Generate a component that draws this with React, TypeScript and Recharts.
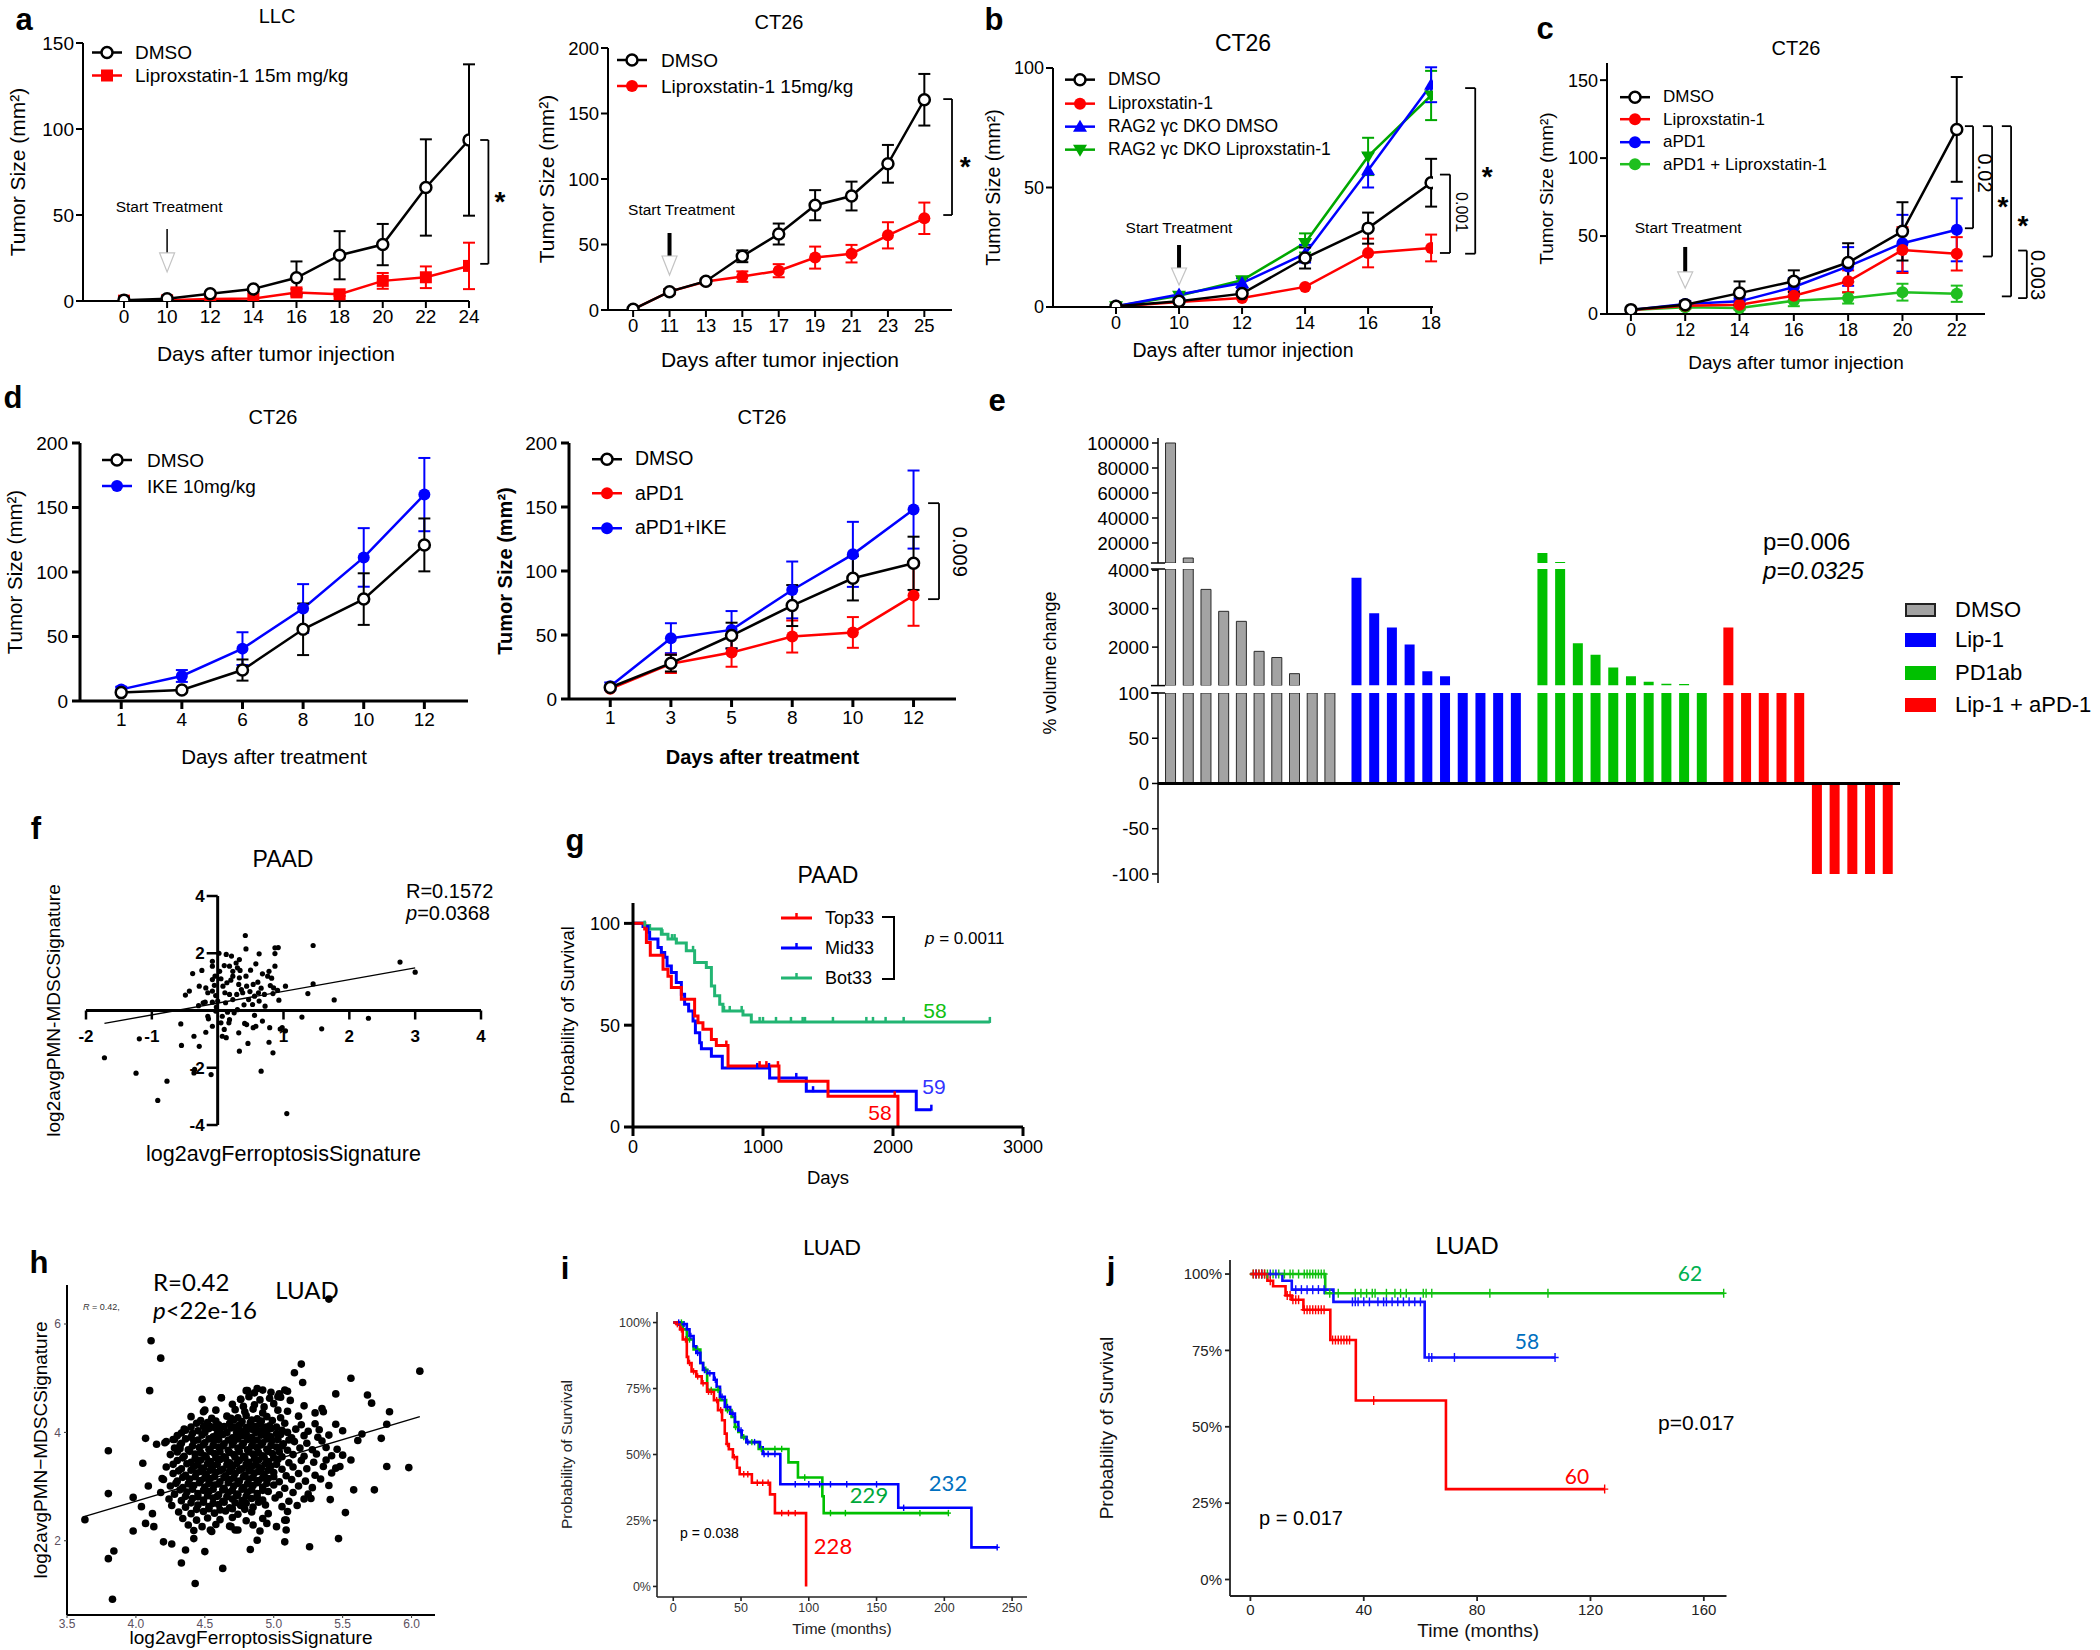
import React from 'react';
import {
  LineChart, Line, XAxis, YAxis, ErrorBar, ReferenceLine, ReferenceDot, Legend,
  BarChart, Bar, Cell, ScatterChart, Scatter,
} from 'recharts';

const FONT = 'Arial, "Liberation Sans", Helvetica, sans-serif';
const SOFT = 'Lato, "Open Sans", sans-serif';
const RED = '#ff0000';
const BLUE = '#0000ff';
const GREEN = '#00a800';
const GREEN2 = '#1fbf1f';
const TEAL = '#22b573';

// ---- a: LLC
const llcDays = ['0', '10', '12', '14', '16', '18', '20', '22', '24'];
const llcDmso = [0.5, 1.3, 4.2, 7, 13.5, 26.6, 32.8, 66, 93.6];
const llcDmsoSem = [null, null, null, null, 9.5, 14, 12, 28, 44];
const llcLip = [0.2, 0.4, 1.2, 1.4, 5, 3.9, 11.7, 13.8, 20.4];
const llcLipSem = [null, null, null, null, 2, 1, 4.6, 6.3, 13.5];

// ---- a: CT26
const ct26Days = ['0', '11', '13', '15', '17', '19', '21', '23', '25'];
const ct26Dmso = [0.5, 14, 22, 41, 58, 80, 87, 111.6, 160.5];
const ct26DmsoSem = [null, 2, 2, 4.5, 8, 11.5, 11, 14.4, 19.7];
const ct26Lip = [0.5, 14, 21.7, 25.5, 30, 40, 43, 57, 70];
const ct26LipSem = [null, 2, 2, 4, 5, 8.4, 6.7, 10, 12];

// ---- b
const bDays = ['0', '10', '12', '14', '16', '18'];
const bDmso = [0.3, 2.4, 5.6, 20.5, 33, 52];
const bDmsoSem = [null, null, null, 4.4, 6.5, 10];
const bLip = [0.2, 2.1, 3.8, 8.4, 22.6, 24.7];
const bLipSem = [null, null, null, null, 6, 5.6];
const bRag = [0.3, 5.2, 10, 22.3, 57.2, 93];
const bRagSem = [null, null, 2, 3.7, 7.2, 7.3];
const bRagLip = [0.3, 4.7, 11.2, 26.8, 63, 88.5];
const bRagLipSem = [null, null, null, 4, 7.8, 10.3];

// ---- c
const cDays = ['0', '12', '14', '16', '18', '20', '22'];
const cDmso = [2.8, 6, 13.4, 21, 33, 53, 118.4];
const cDmsoSem = [null, 2, 7.5, 7, 12.4, 18.7, 33.6];
const cLip = [2.5, 5.3, 6, 11.7, 21, 41, 38.6];
const cLipSem = [null, 2, 2.5, 3, 7, 14.7, 10.7];
const cPd1 = [2.5, 6.4, 8.1, 17.3, 30.5, 45.4, 54];
const cPd1Sem = [null, 2, 2, 5.7, 12.4, 18.2, 20.2];
const cCombo = [2.5, 4.3, 3.8, 8.5, 10.2, 14, 13];
const cComboSem = [null, 1, 1, 3.5, 3.5, 5.4, 5.2];

// ---- d
const dDaysA = ['1', '4', '6', '8', '10', '12'];
const dDmsoA = [6.5, 8.5, 24, 55.6, 79, 121];
const dDmsoASem = [null, null, 8.2, 20, 20, 20.5];
const dIke = [9, 19.4, 40.6, 71.7, 111.3, 160];
const dIkeSem = [2, 4.6, 12.7, 18.9, 22.7, 28.4];
const dDaysB = ['1', '3', '5', '8', '10', '12'];
const dDmsoB = [9, 28, 49.6, 73, 94.3, 106];
const dDmsoBSem = [null, 6.5, 10, 16, 17.3, 20.8];
const dPd1 = [8, 27.5, 36.4, 48.8, 52, 80.8];
const dPd1Sem = [null, 7.2, 11.2, 12.5, 12, 23.6];
const dPd1Ike = [9.9, 47.5, 54, 85.2, 113, 148];
const dPd1IkeSem = [3, 11.7, 14.7, 22.2, 25.4, 30.5];

// ---- e (% volume change per mouse)
const dmsoChange = [100000, 8000, 3500, 2930, 2670, 1890, 1730, 1310, 600, 400];
const lipChange = [3800, 2880, 2510, 2070, 1370, 1240, 800, 600, 400, 200];
const pd1Change = [12000, 4800, 2100, 1800, 1470, 1240, 1100, 1050, 1040, 500];
const comboChange = [2510, 600, 400, 300, 200, -100, -100, -100, -100, -100];

// ---- f: PAAD scatter
const paadPoints = [
  [0.42, 2.62], [0.43, 2.15], [0.87, 2.19], [0.92, 2.2], [1.45, 2.27], [2.77, 1.69], [3.0, 1.34], [0.02, 2.0],
  [0.13, 1.96], [0.21, 1.9], [0.33, 1.78], [0.3, 1.49], [0.34, 1.4], [0.63, 1.98], [0.87, 1.99], [0.87, 1.55],
  [0.78, 1.37], [0.68, 1.28], [0.5, 1.41], [0.43, 1.2], [0.54, 0.91], [0.61, 0.99], [0.76, 1.2], [0.82, 1.13],
  [0.8, 0.87], [0.85, 0.79], [0.84, 0.59], [0.93, 0.36], [1.03, 0.85], [1.45, 0.93], [1.37, 0.59], [1.77, 0.37],
  [1.28, -0.23], [1.58, -0.64], [2.29, -0.27], [0.98, -0.6], [1.03, -0.71], [1.05, -3.6], [0.66, -2.12], [0.84, -1.48],
  [0.78, -1.11], [0.46, -1.15], [0.33, -1.42], [0.32, -0.78], [0.44, -0.49], [0.56, -0.17], [0.58, -0.55], [0.68, -0.37],
  [0.79, -0.6], [0.54, -0.6], [0.41, -0.45], [0.17, -0.43], [0.1, -0.66], [0.07, -0.9], [0.13, -0.95], [0.05, -0.43],
  [-0.08, -0.55], [-0.14, -0.29], [-0.18, -0.76], [-0.1, -2.24], [-0.36, -0.9], [-0.28, -1.25], [-0.55, -1.22], [-0.56, -0.47],
  [-0.36, -2.18], [-0.35, -2.06], [-0.77, -2.47], [-0.91, -3.14], [-1.24, -2.19], [-1.19, -0.99], [-1.72, -1.65], [-0.38, 1.29],
  [-0.24, 1.4], [-0.43, 0.68], [-0.49, 0.54], [-0.29, 0.17], [-0.22, 0.27], [-0.18, 0.79], [-0.28, 0.85], [-0.08, 1.72],
  [-0.08, 1.55], [-0.04, 1.2], [-0.05, 0.88], [-0.08, 0.68], [-0.15, 0.62], [-0.03, 0.52], [-0.08, 0.29], [-0.19, 0.29],
  [0, 0.33], [0.03, 1.37], [0.05, 1.11], [0.08, 0.85], [0.14, 0.97], [0.11, 0.62], [0.18, 0.56], [0.23, 0.38],
  [0.29, 0.56], [0.38, 0.62], [0.44, 0.85], [0.47, 0.38], [0.56, 0.5], [0.62, 0.62], [0.71, 0.56], [0.23, 1.2],
  [0.33, 1.14], [0.25, -0.08], [0.3, 0.03], [0.15, -0.06], [0.53, 0.21], [0.63, 0.33], [0.23, 1.37], [0.1, 1.57],
  [0.18, 1.55], [0.28, 1.66], [-0.03, -0.02], [-0.15, -0.2], [0.32, 0.91], [-0.08, 1.08], [0.2, 1.06], [0.36, 0.73],
  [0.49, 0.66], [0.66, 0.78], [0.12, 0.27], [-0.02, 0.12], [0.4, 0.2], [0.72, 0.15], [0.58, 1.63], [0.91, 0.7],
  [0.95, -0.65], [0.18, -0.32], [0.07, -0.2],
];
const paadFit = [[-1.72, -0.45], [3.0, 1.49]];

// ---- g: PAAD survival (days, % surviving)
const gTopT = [0, 90, 103, 133, 231, 269, 295, 372, 474, 500, 538, 603, 641, 731, 1123, 1500, 2038];
const gTopS = [100, 97.2, 90.6, 84.4, 77.5, 74, 68.5, 62.7, 54.5, 51.2, 48, 43, 40, 29.9, 22.5, 15.1, 0];
const gTopCens = [718, 974, 1026, 1115, 2013];
const gMidT = [0, 77, 115, 128, 192, 218, 244, 262, 295, 333, 372, 397, 428, 462, 480, 513, 526, 603, 687, 1051, 1333, 2179, 2295];
const gMidS = [100, 98.5, 95.6, 92.3, 88.2, 85.7, 83.3, 79.1, 75.9, 70.9, 65.2, 60.3, 57, 52, 46.3, 41.4, 38.4, 34.8, 29, 24.1, 17.6, 8.5, 8.5];
const gMidCens = [956, 1046, 1256, 1385, 2295];
const gBotT = [0, 90, 128, 218, 269, 333, 410, 474, 564, 603, 628, 667, 692, 846, 910, 2745];
const gBotS = [100, 98.9, 97.2, 94.7, 92.3, 90.3, 86.5, 80.8, 78.3, 69.3, 64.4, 60.3, 57, 55, 51.6, 51.6];
const gBotCens = [90, 226, 300, 320, 333, 462, 700, 744, 836, 974, 1000, 1100, 1215, 1305, 1323, 1538, 1795, 1846, 1943, 2082, 2745];

// ---- h: LUAD scatter
const luadPoints = [
  [3.63, 2.39], [3.8, 3.66], [3.8, 2.87], [3.8, 1.67], [3.84, 1.81], [3.83, 0.92], [3.98, 2.8], [3.98, 2.18],
  [4.05, 3.43], [4.07, 3.89], [4.04, 2.63], [4.1, 4.77], [4.11, 5.69], [4.18, 5.37], [4.09, 3.01], [4.15, 3.78],
  [4.2, 1.98], [4.26, 1.94], [4.33, 1.59], [4.36, 1.83], [4.43, 1.21], [4.42, 2.04], [4.5, 1.8], [4.63, 1.49],
  [4.83, 1.84], [4.88, 2.01], [5.08, 1.98], [5.26, 1.89], [5.47, 2.04], [5.52, 2.52], [5.73, 2.94], [5.98, 3.35],
  [5.82, 3.37], [5.56, 3.49], [5.58, 2.94], [5.78, 3.89], [5.84, 4.38], [5.82, 4.15], [5.71, 4.54], [5.68, 4.69],
  [5.56, 5.0], [6.06, 5.13], [5.45, 4.71], [5.45, 4.15], [5.5, 4.03], [5.61, 3.85], [5.64, 3.97], [5.15, 5.1],
  [5.21, 4.92], [5.2, 5.26], [5.4, 6.46], [5.35, 4.44], [5.3, 4.36], [5.41, 2.76], [5.48, 3.37], [5.08, 4.78],
  [5.03, 4.66], [4.88, 4.81], [4.81, 4.77], [4.76, 4.61], [4.62, 4.64], [4.48, 4.61], [4.58, 4.41], [4.49, 4.38],
  [4.69, 4.26], [4.36, 4.04], [4.44, 4.17], [4.54, 4.11], [4.28, 3.87], [4.21, 3.81], [4.32, 3.7], [4.19, 3.15],
  [4.12, 2.5], [4.13, 2.26], [4.07, 2.32], [5.09, 2.2], [5.09, 2.38], [5.27, 2.78], [4.95, 2.32], [4.74, 2.2],
  [4.69, 2.26], [4.54, 2.2],
  [4.8, 4.77], [4.86, 4.73], [4.92, 4.78], [4.98, 4.74], [5.04, 4.71], [5.1, 4.76],
  [4.62, 4.64], [4.76, 4.61], [4.82, 4.66], [4.9, 4.6], [4.97, 4.63], [5.05, 4.65], [5.12, 4.59],
  [4.7, 4.52], [4.78, 4.48], [4.86, 4.51], [4.93, 4.47], [5.0, 4.53], [5.22, 4.49],
  [4.5, 4.41], [4.72, 4.42], [4.79, 4.38], [4.85, 4.43], [4.92, 4.36], [5.03, 4.41], [5.1, 4.39], [5.36, 4.38],
  [4.4, 4.29], [4.55, 4.26], [4.66, 4.3], [4.74, 4.27], [4.8, 4.31], [4.88, 4.25], [4.95, 4.29], [5.05, 4.27], [5.18, 4.3],
  [4.52, 4.18], [4.6, 4.14], [4.68, 4.17], [4.75, 4.13], [4.83, 4.18], [4.9, 4.15], [4.97, 4.12], [5.08, 4.17], [5.2, 4.14], [5.3, 4.16],
  [4.35, 4.06], [4.45, 4.03], [4.53, 4.07], [4.61, 4.04], [4.69, 4.08], [4.76, 4.02], [4.84, 4.06], [4.91, 4.03], [4.98, 4.07],
  [5.06, 4.04], [5.16, 4.06], [5.25, 4.02], [5.33, 4.05],
  [4.3, 3.94], [4.4, 3.91], [4.48, 3.95], [4.56, 3.92], [4.63, 3.96], [4.7, 3.9], [4.77, 3.94], [4.84, 3.91], [4.91, 3.95],
  [4.98, 3.92], [5.05, 3.96], [5.13, 3.9], [5.22, 3.94], [5.32, 3.91], [5.4, 3.95],
  [4.22, 3.83], [4.33, 3.8], [4.42, 3.84], [4.5, 3.81], [4.57, 3.85], [4.64, 3.79], [4.71, 3.83], [4.78, 3.8], [4.85, 3.84],
  [4.92, 3.81], [4.99, 3.85], [5.07, 3.79], [5.15, 3.83], [5.24, 3.8], [5.35, 3.84],
  [4.28, 3.71], [4.38, 3.68], [4.46, 3.72], [4.53, 3.69], [4.6, 3.73], [4.67, 3.67], [4.74, 3.71], [4.81, 3.68], [4.88, 3.72],
  [4.95, 3.69], [5.02, 3.73], [5.1, 3.67], [5.19, 3.71], [5.28, 3.68], [5.38, 3.72], [5.46, 3.69],
  [4.25, 3.59], [4.35, 3.56], [4.43, 3.6], [4.5, 3.57], [4.57, 3.61], [4.64, 3.55], [4.71, 3.59], [4.78, 3.56], [4.85, 3.6],
  [4.92, 3.57], [4.99, 3.61], [5.06, 3.55], [5.14, 3.59], [5.22, 3.56], [5.31, 3.6], [5.42, 3.57], [5.5, 3.58],
  [4.3, 3.48], [4.4, 3.45], [4.47, 3.49], [4.54, 3.46], [4.61, 3.5], [4.68, 3.44], [4.75, 3.48], [4.82, 3.45], [4.89, 3.49],
  [4.96, 3.46], [5.03, 3.5], [5.11, 3.44], [5.2, 3.48], [5.29, 3.45], [5.38, 3.49],
  [4.22, 3.36], [4.33, 3.33], [4.42, 3.37], [4.49, 3.34], [4.56, 3.38], [4.63, 3.32], [4.7, 3.36], [4.77, 3.33], [4.84, 3.37],
  [4.91, 3.34], [4.98, 3.38], [5.06, 3.32], [5.14, 3.36], [5.24, 3.33], [5.36, 3.37], [5.45, 3.34],
  [4.27, 3.24], [4.36, 3.21], [4.44, 3.25], [4.51, 3.22], [4.58, 3.26], [4.65, 3.2], [4.72, 3.24], [4.79, 3.21], [4.86, 3.25],
  [4.93, 3.22], [5.0, 3.26], [5.09, 3.2], [5.18, 3.24], [5.3, 3.21], [5.42, 3.25],
  [4.2, 3.13], [4.3, 3.1], [4.39, 3.14], [4.47, 3.11], [4.54, 3.15], [4.61, 3.09], [4.68, 3.13], [4.75, 3.1], [4.82, 3.14],
  [4.89, 3.11], [4.96, 3.15], [5.04, 3.09], [5.13, 3.13], [5.23, 3.1], [5.34, 3.14],
  [4.25, 3.01], [4.34, 2.98], [4.42, 3.02], [4.5, 2.99], [4.57, 3.03], [4.64, 2.97], [4.71, 3.01], [4.78, 2.98], [4.85, 3.02],
  [4.92, 2.99], [5.0, 3.03], [5.08, 2.97], [5.18, 3.01], [5.28, 2.98], [5.4, 3.02],
  [4.18, 2.89], [4.28, 2.86], [4.37, 2.9], [4.45, 2.87], [4.53, 2.91], [4.6, 2.85], [4.67, 2.89], [4.74, 2.86], [4.81, 2.9],
  [4.88, 2.87], [4.96, 2.91], [5.04, 2.85], [5.14, 2.89], [5.25, 2.86],
  [4.24, 2.77], [4.33, 2.74], [4.41, 2.78], [4.49, 2.75], [4.56, 2.79], [4.63, 2.73], [4.7, 2.77], [4.77, 2.74], [4.84, 2.78],
  [4.92, 2.75], [5.01, 2.79], [5.11, 2.73], [5.22, 2.77],
  [4.26, 2.65], [4.36, 2.62], [4.45, 2.66], [4.53, 2.63], [4.6, 2.67], [4.68, 2.61], [4.76, 2.65], [4.85, 2.62], [4.94, 2.66],
  [5.06, 2.63], [5.17, 2.65],
  [4.31, 2.53], [4.4, 2.5], [4.49, 2.54], [4.57, 2.51], [4.65, 2.55], [4.74, 2.49], [4.84, 2.53], [4.96, 2.5], [5.1, 2.54],
  [4.34, 2.41], [4.44, 2.38], [4.52, 2.42], [4.61, 2.39], [4.7, 2.43], [4.8, 2.37], [4.92, 2.41], [5.08, 2.38],
  [4.38, 2.29], [4.48, 2.26], [4.58, 2.3], [4.68, 2.27], [4.85, 2.29], [5.02, 2.26],
  [4.42, 2.19], [4.55, 2.17], [4.72, 2.2], [4.9, 2.18],
  // dense core
  [4.47, 4.22], [4.58, 4.21], [4.71, 4.23], [4.77, 4.2], [4.84, 4.23], [4.91, 4.21], [4.99, 4.22],
  [4.4, 4.1], [4.49, 4.11], [4.57, 4.09], [4.64, 4.11], [4.72, 4.1], [4.8, 4.09], [4.87, 4.11], [4.94, 4.1], [5.02, 4.1],
  [4.33, 3.99], [4.41, 3.98], [4.5, 4.0], [4.59, 3.98], [4.66, 4.0], [4.73, 3.99], [4.8, 3.98], [4.87, 4.0], [4.95, 3.99], [5.02, 3.98], [5.1, 4.0],
  [4.27, 3.87], [4.36, 3.88], [4.45, 3.86], [4.53, 3.88], [4.6, 3.87], [4.67, 3.86], [4.74, 3.88], [4.81, 3.87], [4.88, 3.86], [4.95, 3.88], [5.03, 3.87], [5.11, 3.86],
  [4.32, 3.76], [4.41, 3.75], [4.49, 3.77], [4.56, 3.76], [4.63, 3.75], [4.7, 3.77], [4.77, 3.76], [4.84, 3.75], [4.91, 3.77], [4.98, 3.76], [5.06, 3.75],
  [4.3, 3.64], [4.39, 3.65], [4.47, 3.63], [4.54, 3.65], [4.61, 3.64], [4.68, 3.63], [4.75, 3.65], [4.82, 3.64], [4.89, 3.63], [4.96, 3.65], [5.04, 3.64],
  [4.34, 3.53], [4.43, 3.52], [4.51, 3.54], [4.58, 3.53], [4.65, 3.52], [4.72, 3.54], [4.79, 3.53], [4.86, 3.52], [4.93, 3.54], [5.0, 3.53],
  [4.27, 3.41], [4.37, 3.42], [4.45, 3.4], [4.52, 3.42], [4.59, 3.41], [4.66, 3.4], [4.73, 3.42], [4.8, 3.41], [4.87, 3.4], [4.94, 3.42], [5.02, 3.41],
  [4.31, 3.29], [4.4, 3.3], [4.47, 3.28], [4.54, 3.3], [4.61, 3.29], [4.68, 3.28], [4.75, 3.3], [4.82, 3.29], [4.89, 3.28], [4.96, 3.3],
  [4.34, 3.17], [4.43, 3.18], [4.5, 3.16], [4.57, 3.18], [4.64, 3.17], [4.71, 3.16], [4.78, 3.18], [4.85, 3.17], [4.92, 3.16], [5.0, 3.18],
  [4.29, 3.06], [4.38, 3.05], [4.46, 3.07], [4.53, 3.06], [4.6, 3.05], [4.67, 3.07], [4.74, 3.06], [4.81, 3.05], [4.88, 3.07], [4.95, 3.06],
  [4.32, 2.94], [4.41, 2.95], [4.49, 2.93], [4.56, 2.95], [4.63, 2.94], [4.7, 2.93], [4.77, 2.95], [4.84, 2.94], [4.92, 2.93],
  [4.36, 2.82], [4.45, 2.81], [4.52, 2.83], [4.59, 2.82], [4.66, 2.81], [4.73, 2.83], [4.8, 2.82], [4.88, 2.81],
  [4.4, 2.7], [4.49, 2.71], [4.56, 2.69], [4.64, 2.71], [4.72, 2.7], [4.8, 2.69], [4.89, 2.71],
  [4.44, 2.58], [4.53, 2.59], [4.61, 2.57], [4.7, 2.59], [4.79, 2.58],
];
const luadFit = [[3.63, 2.45], [6.06, 4.29]];

// ---- i: LUAD survival (months, %)
const iLowT = [0, 2.5, 5, 7, 10, 11, 13.5, 17, 21, 25, 30, 33, 36, 38, 39.4, 41, 44, 47, 49, 58, 71.4, 75, 98];
const iLowS = [100, 99.4, 97.4, 93.6, 87, 84.7, 81.5, 79.6, 77, 73.8, 70.6, 66.8, 63, 57.9, 54, 52, 49, 45, 42.5, 39.3, 34.9, 27.8, 0];
const iLowCens = [3, 6, 9, 12, 15, 18, 22, 26, 28, 32, 35, 40, 45, 52, 55, 62, 66, 70, 80, 85, 90];
const iMidT = [0, 5, 10, 12, 15, 17, 20, 22, 25, 30, 32, 34.5, 38, 42, 45.5, 48, 50.5, 54, 64, 66, 79, 166, 220, 239];
const iMidS = [100, 99.4, 97.4, 94.9, 91, 88.5, 84.7, 82, 80.8, 78.3, 75.7, 71.9, 68, 65.5, 62.3, 59.1, 56.6, 54.7, 52.7, 50.2, 38.7, 29.8, 14.8, 14.8];
const iMidCens = [4, 8, 13, 18, 23, 27, 31, 36, 40, 44, 50, 55, 60, 67, 70, 75, 90, 100, 108, 116, 128, 150, 170, 239];
const iHighT = [0, 7, 10, 15, 20, 22, 25, 34.5, 39, 43, 45.5, 48, 50.5, 54, 63, 85, 92, 110, 111, 203];
const iHighS = [100, 97.4, 93.6, 89.8, 84.7, 82.1, 74.5, 70.6, 66.8, 64.2, 60.4, 58.5, 56.6, 54.7, 52.1, 47, 41.3, 34.2, 27.8, 27.8];
const iHighCens = [6, 12, 18, 24, 28, 33, 40, 46, 52, 58, 65, 75, 80, 97, 116, 127, 182, 203];

// ---- j: LUAD survival (months, %)
const jGreenT = [0, 26.4, 167];
const jGreenS = [100, 93.7, 93.7];
const jGreenCens = [1, 2, 3, 4, 5, 6, 8, 10, 12, 14, 15, 17, 19, 20, 21, 22, 23, 24, 25, 26, 28, 31, 37, 39, 41, 43, 44, 48, 51, 53, 55, 61, 62, 64, 84.5, 105, 167];
const jBlueT = [0, 11.3, 14.6, 29.3, 61.5, 107.5];
const jBlueS = [100, 97.8, 94.9, 90.9, 72.7, 72.7];
const jBlueCens = [2, 4, 7, 9, 16, 18, 20, 22, 24, 26, 36, 37, 38, 40, 42, 45, 47, 48, 50, 52, 54, 56, 58, 60, 63, 64, 72, 107.5];
const jRedT = [0, 6, 8, 12.4, 14.6, 18.7, 28.2, 37.2, 69, 125];
const jRedS = [100, 97.8, 96, 93, 91.6, 88.3, 78.4, 58.6, 29.6, 29.6];
const jRedCens = [1, 2, 3, 4, 5, 7, 13, 14, 15, 16, 17, 19, 20, 21, 22, 23, 24, 25, 26, 29, 30, 31, 32, 33, 34, 35, 43.5, 125];

// ---------------------------------------------------------------- helpers
function frame(b) {
  return { left: b.x0 - b.L, top: b.y0 - b.T, width: b.x1 - b.x0 + b.L + b.R, height: b.y1 - b.y0 + b.T + b.B };
}

function stepAt(ts, ss, t) {
  let v = ss[0];
  for (let k = 0; k < ts.length; k++) if (ts[k] <= t) v = ss[k];
  return v;
}

function Abs({ x, y, size = 20, anchor = 'start', children, family = FONT, color = '#000', weight = 400, rotate = 0, italic = false }) {
  const tx = anchor === 'middle' ? '-50%' : anchor === 'end' ? '-100%' : '0';
  return (
    <div style={{
      position: 'absolute', left: x, top: y, fontSize: size, lineHeight: 1, whiteSpace: 'nowrap', fontFamily: family,
      color, fontWeight: weight, fontStyle: italic ? 'italic' : 'normal',
      transform: `translate(${tx}, -50%)${rotate ? ` rotate(${rotate}deg)` : ''}`,
    }}>{children}</div>
  );
}

function marker(shape, color, cx, cy, key) {
  if (cx == null || cy == null) return null;
  switch (shape) {
    case 'open': return <circle key={key} cx={cx} cy={cy} r={5.5} fill="#fff" stroke={color} strokeWidth={2.5} />;
    case 'dot': return <circle key={key} cx={cx} cy={cy} r={6} fill={color} />;
    case 'square': return <rect key={key} x={cx - 6} y={cy - 6} width={12} height={12} fill={color} />;
    case 'up': return <polygon key={key} points={`${cx},${cy - 7} ${cx - 7},${cy + 5} ${cx + 7},${cy + 5}`} fill={color} />;
    default: return <polygon key={key} points={`${cx - 7},${cy - 5} ${cx + 7},${cy - 5} ${cx},${cy + 7}`} fill={color} />;
  }
}

function GrowthLegend({ series, font, gap, textX }) {
  return (
    <div style={{ fontFamily: FONT, fontSize: font, color: '#000', lineHeight: 1 }}>
      {series.map((s) => (
        <div key={s.name} style={{ display: 'flex', alignItems: 'center', height: gap, whiteSpace: 'nowrap' }}>
          <svg width={textX} height={gap} style={{ flex: 'none', overflow: 'visible' }}>
            <line x1={0} x2={30} y1={gap / 2} y2={gap / 2} stroke={s.color} strokeWidth={2.5} />
            {marker(s.shape, s.color, 15, gap / 2, 'm')}
          </svg>
          <span>{s.name}</span>
        </div>
      ))}
    </div>
  );
}

function GrowthPanel(p) {
  const { box, labels, series, legend: lg } = p;
  const f = frame(box);
  const data = labels.map((_, i) => {
    const row = { i };
    series.forEach((s, k) => { row['v' + k] = s.values[i]; row['e' + k] = s.sem[i]; });
    return row;
  });
  const axis = { stroke: '#000', strokeWidth: p.axisW };
  const tick = { fill: '#000', fontSize: p.tickFont, fontFamily: FONT };
  const lbl = { fontSize: p.labelFont, fontFamily: FONT, fontWeight: p.bold ? 700 : 400, fill: '#000' };
  const order = series.map((_, k) => k).reverse();
  const st = p.start;
  return (
    <div style={{ position: 'absolute', left: f.left, top: f.top }}>
      <LineChart width={f.width} height={f.height} data={data} margin={{ top: box.T, right: box.R, bottom: 0, left: 0 }}>
        <XAxis type="number" dataKey="i" domain={p.xDomain} allowDataOverflow ticks={labels.map((_, i) => i)} interval={0}
          tickFormatter={(v) => labels[v] ?? ''} height={box.B} axisLine={axis} tickLine={axis} tickSize={p.tickSize || 7}
          tickMargin={p.tickMargin || 2} tick={tick}
          label={{ value: p.xLabel, position: 'insideBottom', offset: p.xLabelOffset, style: lbl }} />
        <YAxis type="number" domain={p.yDomain} allowDataOverflow ticks={p.yTicks} interval={0} width={box.L}
          axisLine={axis} tickLine={axis} tickSize={p.tickSize || 7} tickMargin={p.tickMargin || 2} tick={tick}
          label={{ value: p.yLabel, angle: -90, position: 'insideLeft', offset: p.yLabelOffset, style: { ...lbl, textAnchor: 'middle' } }} />
        {order.map((k) => {
          const s = series[k];
          return (
            <Line key={s.name} dataKey={'v' + k} stroke={s.color} strokeWidth={2.5} isAnimationActive={false} activeDot={false}
              dot={(d) => marker(s.shape, s.color, d.cx, d.cy, `d${k}-${d.index}`)}>
              <ErrorBar dataKey={'e' + k} width={6} stroke={s.color} strokeWidth={2} direction="y" />
            </Line>
          );
        })}
        {p.brackets.map((b, k) => (
          <React.Fragment key={'b' + k}>
            <ReferenceLine segment={[{ x: b.x, y: b.y1 }, { x: b.x, y: b.y2 }]} stroke="#000" strokeWidth={1.8} ifOverflow="visible" />
            <ReferenceLine segment={[{ x: b.x0, y: b.y1 }, { x: b.x, y: b.y1 }]} stroke="#000" strokeWidth={1.8} ifOverflow="visible" />
            <ReferenceLine segment={[{ x: b.x0, y: b.y2 }, { x: b.x, y: b.y2 }]} stroke="#000" strokeWidth={1.8} ifOverflow="visible" />
            <ReferenceDot x={b.tx} y={b.ty} ifOverflow="visible" shape={(q) => (
              b.rotate
                ? <text x={q.cx} y={q.cy} transform={`rotate(90 ${q.cx} ${q.cy})`} textAnchor="middle" dominantBaseline="central"
                    fontSize={b.font || 19} fontFamily={FONT} fill="#000">{b.text}</text>
                : <text x={q.cx} y={q.cy + 13} textAnchor="middle" fontSize={28} fontWeight={700} fontFamily={FONT} fill="#000">{b.text}</text>
            )} />
          </React.Fragment>
        ))}
        {st && (
          <ReferenceDot x={st.idx} y={st.tip} ifOverflow="visible" shape={(q) => (
            <g>
              <text x={q.cx + st.dx} y={q.cy - st.textUp} textAnchor="middle" fontSize={15.5} fontFamily={FONT} fill="#000">Start Treatment</text>
              <line x1={q.cx} x2={q.cx} y1={q.cy - st.stemTop} y2={q.cy - st.tri} stroke="#000" strokeWidth={st.stemW} />
              <polygon points={`${q.cx - 7.5},${q.cy - st.tri} ${q.cx + 7.5},${q.cy - st.tri} ${q.cx},${q.cy}`} fill="#fff" stroke="#c4c4c4" strokeWidth={1.2} />
            </g>
          )} />
        )}
        <Legend layout="vertical" align="center" verticalAlign="middle"
          wrapperStyle={{ left: lg.x - f.left, top: lg.y - lg.gap / 2 - f.top, width: 'auto', height: 'auto' }}
          content={() => <GrowthLegend series={series} font={lg.font} gap={lg.gap} textX={lg.textX} />} />
      </LineChart>
    </div>
  );
}

function censorMark(kind, color, cx, cy, key) {
  if (cx == null || cy == null) return null;
  if (kind === 'tick') return <line key={key} x1={cx} x2={cx} y1={cy - 5} y2={cy + 1} stroke={color} strokeWidth={2.5} />;
  const h = kind === 'plusBig' ? 4.5 : 3.2;
  return (
    <g key={key}>
      <line x1={cx} x2={cx} y1={cy - h} y2={cy + h} stroke={color} strokeWidth={1.4} />
      <line x1={cx - h * 0.8} x2={cx + h * 0.8} y1={cy} y2={cy} stroke={color} strokeWidth={1.4} />
    </g>
  );
}

function KMChart(p) {
  const b = p.box;
  const f = frame(b);
  const axis = { stroke: p.axisColor, strokeWidth: p.axisW };
  const tick = { fill: p.tickColor, fontSize: p.tickFont, fontFamily: FONT };
  const lbl = { fontSize: p.labelFont, fontFamily: FONT, fill: p.labelColor || '#000' };
  return (
    <div style={{ position: 'absolute', left: f.left, top: f.top }}>
      <LineChart width={f.width} height={f.height} margin={{ top: b.T, right: b.R, bottom: 0, left: 0 }}>
        <XAxis type="number" dataKey="t" domain={p.xDomain} allowDataOverflow ticks={p.xTicks} interval={0} height={b.B}
          axisLine={axis} tickLine={axis} tickSize={p.tickSize} tickMargin={p.tickMargin} tick={tick}
          label={{ value: p.xLabel, position: 'insideBottom', offset: p.xLabelOffset, style: lbl }} />
        <YAxis type="number" domain={p.yDomain} allowDataOverflow ticks={p.yTicks} interval={0} width={b.L} tickFormatter={p.yFmt}
          axisLine={axis} tickLine={axis} tickSize={p.tickSize} tickMargin={p.tickMargin} tick={tick}
          label={{ value: p.yLabel, angle: -90, position: 'insideLeft', offset: p.yLabelOffset, style: { ...lbl, textAnchor: 'middle' } }} />
        {p.curves.map((c, k) => (
          <Line key={'c' + k} data={c.t.map((t, i) => ({ t, s: c.s[i] }))} dataKey="s" type="stepAfter" stroke={c.color}
            strokeWidth={p.lineW} dot={false} activeDot={false} isAnimationActive={false} />
        ))}
        {p.curves.map((c, k) => (
          <Line key={'m' + k} data={c.censor.map((t) => ({ t, s: stepAt(c.t, c.s, t) }))} dataKey="s" stroke="none"
            dot={(d) => censorMark(p.censor, c.color, d.cx, d.cy, `m${k}-${d.index}`)} activeDot={false} isAnimationActive={false} />
        ))}
        {p.children}
      </LineChart>
    </div>
  );
}

// ---------------------------------------------------------------- panels
function WaterfallPanel() {
  const groups = [
    { values: dmsoChange, fill: '#a3a3a3', stroke: '#2a2a2a' },
    { values: lipChange, fill: BLUE, stroke: 'none' },
    { values: pd1Change, fill: '#00c000', stroke: 'none' },
    { values: comboChange, fill: RED, stroke: 'none' },
  ];
  const rows = groups.flatMap((g, gi) => g.values.map((v, i) => ({ pos: gi * 10.5 + i, v, gi })));
  const segs = [
    { y0: 438, y1: 563, domain: [4000, 104000], ticks: [20000, 40000, 60000, 80000, 100000], breaks: [4000], pick: (v) => (v > 4000 ? v : null) },
    { y0: 569, y1: 685.6, domain: [1000, 4030], ticks: [2000, 3000, 4000], breaks: [4030, 1000], pick: (v) => (v > 1000 ? Math.min(v, 4030) : null) },
    { y0: 693, y1: 883, domain: [-110, 100], ticks: [-100, -50, 0, 50, 100], breaks: [100], pick: (v) => Math.min(v, 100) },
  ];
  const x0 = 1158;
  const x1 = 1900;
  const L = 110;
  const R = 10;
  const T = 12;
  const axis = { stroke: '#000', strokeWidth: 1.5 };
  return (
    <>
      {segs.map((s, si) => {
        const data = rows.map((r) => ({ pos: r.pos, val: s.pick(r.v), gi: r.gi }));
        return (
          <div key={si} style={{ position: 'absolute', left: x0 - L, top: s.y0 - T }}>
            <BarChart width={x1 - x0 + L + R} height={s.y1 - s.y0 + T + 8} data={data} margin={{ top: T, right: R, bottom: 8, left: 0 }}>
              <XAxis type="number" dataKey="pos" domain={[-0.7, 41.2]} allowDataOverflow hide />
              <YAxis type="number" domain={s.domain} allowDataOverflow ticks={s.ticks} interval={0} width={L}
                axisLine={axis} tickLine={axis} tickSize={6} tickMargin={3}
                tick={{ fill: '#000', fontSize: 18.5, fontFamily: FONT }} />
              <Bar dataKey="val" barSize={10} isAnimationActive={false}>
                {data.map((d, i) => <Cell key={i} fill={groups[d.gi].fill} stroke={groups[d.gi].stroke} strokeWidth={1} />)}
              </Bar>
              {s.breaks.map((y) => (
                <ReferenceLine key={y} segment={[{ x: -1.1, y }, { x: -0.3, y }]} stroke="#000" strokeWidth={1.5} ifOverflow="visible" />
              ))}
              {si === 2 && <ReferenceLine y={0} stroke="#000" strokeWidth={3} />}
            </BarChart>
          </div>
        );
      })}
      <Abs x={1050} y={663} size={18} anchor="middle" rotate={-90}>% volume change</Abs>
      <Abs x={1763} y={542} size={24}>p=0.006</Abs>
      <Abs x={1763} y={571} size={24} italic>p=0.0325</Abs>
      {[['DMSO', '#a3a3a3', 610], ['Lip-1', BLUE, 640], ['PD1ab', '#00c000', 673], ['Lip-1 + aPD-1', RED, 705]].map(([n, c, y]) => (
        <React.Fragment key={n}>
          <div style={{ position: 'absolute', left: 1905, top: y - 7, width: 31, height: 14, background: c, boxSizing: 'border-box', border: n === 'DMSO' ? '2px solid #222' : 'none' }} />
          <Abs x={1955} y={y} size={22}>{n}</Abs>
        </React.Fragment>
      ))}
    </>
  );
}

function PaadScatter() {
  const b = { x0: 86, y0: 896, x1: 481, y1: 1125, L: 95, T: 20, R: 40, B: 50 };
  const f = frame(b);
  const zx = b.L + (2 / 6) * (b.x1 - b.x0);
  const zy = b.T + (4 / 8) * (b.y1 - b.y0);
  const data = paadPoints.map(([x, y]) => ({ x, y }));
  const lbl = { fontSize: 19, fontFamily: FONT, fill: '#000' };
  return (
    <div style={{ position: 'absolute', left: f.left, top: f.top }}>
      <ScatterChart width={f.width} height={f.height} margin={{ top: b.T, right: b.R, bottom: 0, left: 0 }}>
        <XAxis type="number" dataKey="x" domain={[-2, 4]} allowDataOverflow ticks={[-2, -1, 1, 2, 3, 4]} interval={0} height={b.B}
          axisLine={false} tickLine={false}
          tick={(t) => (
            <g key={t.payload.value}>
              <line x1={t.x} x2={t.x} y1={zy} y2={zy + 9} stroke="#000" strokeWidth={2.5} />
              <text x={t.x} y={zy + 31} textAnchor="middle" fontSize={17} fontWeight={700} fontFamily={FONT} fill="#000">{t.payload.value}</text>
            </g>
          )}
          label={{ value: 'log2avgFerroptosisSignature', position: 'insideBottom', offset: 14, style: { ...lbl, fontSize: 21.5 } }} />
        <YAxis type="number" dataKey="y" domain={[-4, 4]} allowDataOverflow ticks={[-4, -2, 2, 4]} interval={0} width={b.L}
          axisLine={false} tickLine={false}
          tick={(t) => (
            <g key={t.payload.value}>
              <line x1={zx - 11} x2={zx} y1={t.y} y2={t.y} stroke="#000" strokeWidth={2.5} />
              <text x={zx - 13} y={t.y + 6} textAnchor="end" fontSize={17} fontWeight={700} fontFamily={FONT} fill="#000">{t.payload.value}</text>
            </g>
          )}
          label={{ value: 'log2avgPMN-MDSCSignature', angle: -90, position: 'insideLeft', offset: 62, style: { ...lbl, textAnchor: 'middle' } }} />
        <ReferenceLine y={0} stroke="#000" strokeWidth={3} />
        <ReferenceLine x={0} stroke="#000" strokeWidth={3} />
        <Scatter data={data} fill="#000" isAnimationActive={false}
          shape={(q) => <circle cx={q.cx} cy={q.cy} r={2.6} fill="#000" />} />
        <ReferenceLine segment={[{ x: paadFit[0][0], y: paadFit[0][1] }, { x: paadFit[1][0], y: paadFit[1][1] }]} stroke="#000" strokeWidth={1.4} />
      </ScatterChart>
    </div>
  );
}

function LuadScatter() {
  const b = { x0: 67, y0: 1285, x1: 435, y1: 1615, L: 75, T: 20, R: 20, B: 35 };
  const f = frame(b);
  const data = luadPoints.map(([x, y]) => ({ x, y }));
  const lbl = { fontSize: 19, fontFamily: FONT, fill: '#000' };
  const tick = { fill: '#5a5060', fontSize: 12, fontFamily: FONT };
  return (
    <div style={{ position: 'absolute', left: f.left, top: f.top }}>
      <ScatterChart width={f.width} height={f.height} margin={{ top: b.T, right: b.R, bottom: 0, left: 0 }}>
        <XAxis type="number" dataKey="x" domain={[3.5, 6.17]} allowDataOverflow ticks={[3.5, 4, 4.5, 5, 5.5, 6]} interval={0}
          tickFormatter={(v) => v.toFixed(1)} height={b.B} axisLine={{ stroke: '#000', strokeWidth: 2 }}
          tickLine={{ stroke: '#333', strokeWidth: 1 }} tickSize={3} tickMargin={1} tick={tick}
          label={{ value: 'log2avgFerroptosisSignature', position: 'insideBottom', offset: 6, style: lbl }} />
        <YAxis type="number" dataKey="y" domain={[0.63, 6.72]} allowDataOverflow ticks={[2, 4, 6]} interval={0} width={b.L}
          axisLine={{ stroke: '#000', strokeWidth: 2 }} tickLine={{ stroke: '#333', strokeWidth: 1 }} tickSize={3} tickMargin={3} tick={tick}
          label={{ value: 'log2avgPMN\u2212MDSCSignature', angle: -90, position: 'insideLeft', offset: 48, style: { ...lbl, textAnchor: 'middle' } }} />
        <Scatter data={data} fill="#000" isAnimationActive={false}
          shape={(q) => <circle cx={q.cx} cy={q.cy} r={3.8} fill="#000" />} />
        <ReferenceLine segment={[{ x: luadFit[0][0], y: luadFit[0][1] }, { x: luadFit[1][0], y: luadFit[1][1] }]} stroke="#000" strokeWidth={1.4} />
      </ScatterChart>
    </div>
  );
}

function GLegend() {
  const items = [['Top33', RED], ['Mid33', BLUE], ['Bot33', TEAL]];
  return (
    <div style={{ position: 'relative', fontFamily: FONT, fontSize: 18, lineHeight: 1, color: '#000', width: 130 }}>
      {items.map(([n, c]) => (
        <div key={n} style={{ display: 'flex', alignItems: 'center', height: 30 }}>
          <svg width={44} height={30} style={{ flex: 'none' }}>
            <line x1={0} x2={31} y1={15} y2={15} stroke={c} strokeWidth={3} />
            <line x1={15.5} x2={15.5} y1={10} y2={15} stroke={c} strokeWidth={2.5} />
          </svg>
          <span>{n}</span>
        </div>
      ))}
      <svg width={20} height={90} style={{ position: 'absolute', left: 100, top: 0 }}>
        <polyline points="1,14 13,14 13,76 1,76" fill="none" stroke="#000" strokeWidth={2} />
      </svg>
    </div>
  );
}

function Panels() {
  const llcBox = { x0: 83, y0: 43, x1: 469, y1: 301, L: 95, T: 20, R: 50, B: 70 };
  const ctBox = { x0: 608, y0: 48, x1: 952, y1: 310, L: 85, T: 20, R: 40, B: 65 };
  const bBox = { x0: 1053, y0: 68, x1: 1433, y1: 307, L: 85, T: 20, R: 70, B: 60 };
  const cBox = { x0: 1607, y0: 63, x1: 1985, y1: 314, L: 85, T: 20, R: 65, B: 60 };
  const dBoxA = { x0: 80, y0: 443, x1: 468, y1: 701, L: 90, T: 20, R: 20, B: 70 };
  const dBoxB = { x0: 569, y0: 443, x1: 956, y1: 699, L: 90, T: 20, R: 40, B: 70 };
  const tumor = 'Tumor Size (mm\u00b2)';
  const inj = 'Days after tumor injection';
  const gBox = { x0: 633, y0: 903, x1: 1023, y1: 1127, L: 85, T: 20, R: 30, B: 65 };
  const gF = frame(gBox);
  return (
    <>
      <GrowthPanel box={llcBox} labels={llcDays} xDomain={[-0.95, 8]} yDomain={[0, 150]} yTicks={[0, 50, 100, 150]}
        series={[
          { name: 'DMSO', color: '#000', values: llcDmso, sem: llcDmsoSem, shape: 'open' },
          { name: 'Liproxstatin-1 15m mg/kg', color: RED, values: llcLip, sem: llcLipSem, shape: 'square' },
        ]}
        yLabel={tumor} yLabelOffset={30} xLabel={inj} xLabelOffset={10} labelFont={21} tickFont={19} axisW={2}
        legend={{ x: 92, y: 52, gap: 23, font: 19, textX: 43 }}
        brackets={[{ x: 8.45, x0: 8.26, y1: 93.6, y2: 21.6, text: '*', tx: 8.72, ty: 60 }]}
        start={{ idx: 1, tip: 16.9, textUp: 60, stemTop: 43, tri: 19, stemW: 1.5, dx: 2 }} />
      <GrowthPanel box={ctBox} labels={ct26Days} xDomain={[-0.69, 8.76]} yDomain={[0, 200]} yTicks={[0, 50, 100, 150, 200]}
        series={[
          { name: 'DMSO', color: '#000', values: ct26Dmso, sem: ct26DmsoSem, shape: 'open' },
          { name: 'Liproxstatin-1 15mg/kg', color: RED, values: ct26Lip, sem: ct26LipSem, shape: 'dot' },
        ]}
        yLabel={tumor} yLabelOffset={24} xLabel={inj} xLabelOffset={8} labelFont={21} tickFont={18.5} axisW={2}
        legend={{ x: 617, y: 60, gap: 26, font: 19, textX: 44 }}
        brackets={[{ x: 8.76, x0: 8.52, y1: 161, y2: 72.5, text: '*', tx: 9.12, ty: 112 }]}
        start={{ idx: 1, tip: 26.7, textUp: 60, stemTop: 42, tri: 19, stemW: 4, dx: 12 }} />
      <GrowthPanel box={bBox} labels={bDays} xDomain={[-1, 5.03]} yDomain={[0, 100]} yTicks={[0, 50, 100]}
        series={[
          { name: 'DMSO', color: '#000', values: bDmso, sem: bDmsoSem, shape: 'open' },
          { name: 'Liproxstatin-1', color: RED, values: bLip, sem: bLipSem, shape: 'dot' },
          { name: 'RAG2 \u03b3c DKO DMSO', color: BLUE, values: bRag, sem: bRagSem, shape: 'up' },
          { name: 'RAG2 \u03b3c DKO Liproxstatin-1', color: GREEN, values: bRagLip, sem: bRagLipSem, shape: 'down' },
        ]}
        yLabel={tumor} yLabelOffset={25} xLabel={inj} xLabelOffset={10} labelFont={19.5} tickFont={18} axisW={2}
        legend={{ x: 1065, y: 80, gap: 23.3, font: 17.5, textX: 43 }}
        brackets={[
          { x: 5.3, x0: 5.14, y1: 55.4, y2: 22.6, text: '0.001', tx: 5.49, ty: 39.7, rotate: true, font: 16 },
          { x: 5.7, x0: 5.54, y1: 91.6, y2: 22.3, text: '*', tx: 5.89, ty: 56 },
        ]}
        start={{ idx: 1, tip: 9.2, textUp: 52, stemTop: 40, tri: 17, stemW: 4, dx: 0 }} />
      <GrowthPanel box={cBox} labels={cDays} xDomain={[-0.44, 6.52]} yDomain={[0, 161]} yTicks={[0, 50, 100, 150]}
        series={[
          { name: 'DMSO', color: '#000', values: cDmso, sem: cDmsoSem, shape: 'open' },
          { name: 'Liproxstatin-1', color: RED, values: cLip, sem: cLipSem, shape: 'dot' },
          { name: 'aPD1', color: BLUE, values: cPd1, sem: cPd1Sem, shape: 'dot' },
          { name: 'aPD1 + Liproxstatin-1', color: GREEN2, values: cCombo, sem: cComboSem, shape: 'dot' },
        ]}
        yLabel={tumor} yLabelOffset={24} xLabel={inj} xLabelOffset={5} labelFont={19} tickFont={18} axisW={2}
        legend={{ x: 1620, y: 97, gap: 22.4, font: 17, textX: 43 }}
        brackets={[
          { x: 6.3, x0: 6.15, y1: 120.5, y2: 55, text: '0.02', tx: 6.52, ty: 90.4, rotate: true, font: 20 },
          { x: 6.65, x0: 6.48, y1: 120.5, y2: 36.9, text: '*', tx: 6.85, ty: 71.2 },
          { x: 7.0, x0: 6.83, y1: 120.5, y2: 11.3, text: '*', tx: 7.22, ty: 59 },
          { x: 7.29, x0: 7.13, y1: 40.7, y2: 10.2, text: '0.003', tx: 7.5, ty: 25, rotate: true, font: 20 },
        ]}
        start={{ idx: 1, tip: 16.7, textUp: 55, stemTop: 41, tri: 16, stemW: 4, dx: 3 }} />
      <GrowthPanel box={dBoxA} labels={dDaysA} xDomain={[-0.68, 5.72]} yDomain={[0, 200]} yTicks={[0, 50, 100, 150, 200]}
        series={[
          { name: 'DMSO', color: '#000', values: dDmsoA, sem: dDmsoASem, shape: 'open' },
          { name: 'IKE 10mg/kg', color: BLUE, values: dIke, sem: dIkeSem, shape: 'dot' },
        ]}
        yLabel={tumor} yLabelOffset={25} xLabel="Days after treatment" xLabelOffset={7} labelFont={20.5} tickFont={19} axisW={3}
        tickSize={8} tickMargin={4}
        legend={{ x: 102, y: 460, gap: 26, font: 19, textX: 45 }} brackets={[]} />
      <GrowthPanel box={dBoxB} labels={dDaysB} xDomain={[-0.68, 5.7]} yDomain={[0, 200]} yTicks={[0, 50, 100, 150, 200]}
        series={[
          { name: 'DMSO', color: '#000', values: dDmsoB, sem: dDmsoBSem, shape: 'open' },
          { name: 'aPD1', color: RED, values: dPd1, sem: dPd1Sem, shape: 'dot' },
          { name: 'aPD1+IKE', color: BLUE, values: dPd1Ike, sem: dPd1IkeSem, shape: 'dot' },
        ]}
        yLabel={tumor} yLabelOffset={26} xLabel="Days after treatment" xLabelOffset={5} labelFont={20} tickFont={19} axisW={3} bold
        tickSize={8} tickMargin={4}
        legend={{ x: 592, y: 459, gap: 34.5, font: 19.5, textX: 43 }}
        brackets={[{ x: 5.42, x0: 5.24, y1: 153, y2: 78, text: '0.009', tx: 5.77, ty: 115, rotate: true, font: 20 }]} />

      <WaterfallPanel />
      <PaadScatter />

      <KMChart box={gBox} xDomain={[0, 3000]} yDomain={[0, 110]} xTicks={[0, 1000, 2000, 3000]} yTicks={[0, 50, 100]}
        axisColor="#000" axisW={3} tickColor="#000" tickFont={18} tickSize={9} tickMargin={4} lineW={3} censor="tick"
        yLabel="Probability of Survival" yLabelOffset={19} xLabel="Days" xLabelOffset={8} labelFont={18.5}
        curves={[
          { color: TEAL, t: gBotT, s: gBotS, censor: gBotCens },
          { color: BLUE, t: gMidT, s: gMidS, censor: gMidCens },
          { color: RED, t: gTopT, s: gTopS, censor: gTopCens },
        ]}>
        <Legend layout="vertical" align="center" verticalAlign="middle"
          wrapperStyle={{ left: 781 - gF.left, top: 903 - gF.top, width: 'auto', height: 'auto' }}
          content={() => <GLegend />} />
      </KMChart>

      <LuadScatter />

      <KMChart box={{ x0: 657, y0: 1312, x1: 1027, y1: 1597, L: 115, T: 20, R: 20, B: 45 }}
        xDomain={[-12, 261]} yDomain={[-4, 104]} xTicks={[0, 50, 100, 150, 200, 250]} yTicks={[0, 25, 50, 75, 100]}
        yFmt={(v) => `${v}%`} axisColor="#222" axisW={1.6} tickColor="#333" tickFont={12.5} tickSize={4} tickMargin={2}
        lineW={2.6} censor="plus"
        yLabel="Probability of Survival" yLabelOffset={24} xLabel="Time (months)" xLabelOffset={8} labelFont={15.5} labelColor="#222"
        curves={[
          { color: '#00c000', t: iHighT, s: iHighS, censor: iHighCens },
          { color: BLUE, t: iMidT, s: iMidS, censor: iMidCens },
          { color: RED, t: iLowT, s: iLowS, censor: iLowCens },
        ]} />

      <KMChart box={{ x0: 1229.5, y0: 1260, x1: 1726, y1: 1596, L: 145, T: 20, R: 40, B: 50 }}
        xDomain={[-7.2, 168]} yDomain={[-5.4, 104.6]} xTicks={[0, 40, 80, 120, 160]} yTicks={[0, 25, 50, 75, 100]}
        yFmt={(v) => `${v}%`} axisColor="#222" axisW={1.8} tickColor="#222" tickFont={15} tickSize={5} tickMargin={3}
        lineW={2.6} censor="plusBig"
        yLabel="Probability of Survival" yLabelOffset={21} xLabel="Time (months)" xLabelOffset={9} labelFont={19} labelColor="#111"
        curves={[
          { color: '#10c010', t: jGreenT, s: jGreenS, censor: jGreenCens },
          { color: '#1010ff', t: jBlueT, s: jBlueS, censor: jBlueCens },
          { color: RED, t: jRedT, s: jRedS, censor: jRedCens },
        ]} />
    </>
  );
}

function Texts() {
  const L = (t, x, y) => <Abs x={x} y={y} size={31} weight={700} anchor="middle">{t}</Abs>;
  return (
    <>
      {L('a', 24, 19)}{L('b', 994, 19)}{L('c', 1545, 28)}{L('d', 13, 397)}{L('e', 997, 400)}
      {L('f', 36, 828)}{L('g', 575, 840)}{L('h', 39, 1262)}{L('i', 565, 1268)}{L('j', 1111, 1268)}

      <Abs x={277} y={16} size={20} anchor="middle">LLC</Abs>
      <Abs x={779} y={22} size={20} anchor="middle">CT26</Abs>
      <Abs x={1243} y={43} size={23} anchor="middle">CT26</Abs>
      <Abs x={1796} y={48} size={20} anchor="middle">CT26</Abs>
      <Abs x={273} y={417} size={20} anchor="middle">CT26</Abs>
      <Abs x={762} y={417} size={20} anchor="middle">CT26</Abs>
      <Abs x={283} y={859} size={23} anchor="middle">PAAD</Abs>
      <Abs x={828} y={875} size={23} anchor="middle">PAAD</Abs>
      <Abs x={307} y={1290} size={24} anchor="middle" family={SOFT}>LUAD</Abs>
      <Abs x={832} y={1247} size={22} anchor="middle" family={SOFT}>LUAD</Abs>
      <Abs x={1467} y={1245} size={24} anchor="middle" family={SOFT}>LUAD</Abs>

      <Abs x={406} y={891} size={20}>R=0.1572</Abs>
      <Abs x={406} y={913} size={20}><i>p</i>=0.0368</Abs>

      <Abs x={925} y={938} size={17}><i>p</i> = 0.0011</Abs>
      <Abs x={935} y={1010} size={21} anchor="middle" color="#11c011">58</Abs>
      <Abs x={934} y={1086} size={21} anchor="middle" color="#3333ff">59</Abs>
      <Abs x={880} y={1112} size={21} anchor="middle" color={RED}>58</Abs>

      <Abs x={83} y={1307} size={9} color="#333"><i>R</i> = 0.42,</Abs>
      <Abs x={153} y={1282} size={24} family={SOFT}>R=0.42</Abs>
      <Abs x={153} y={1310} size={24} family={SOFT}><i>p</i>&lt;22e-16</Abs>

      <Abs x={680} y={1533} size={14}>p = 0.038</Abs>
      <Abs x={948} y={1483} size={22} anchor="middle" family={SOFT} color="#0070c0">232</Abs>
      <Abs x={869} y={1495} size={22} anchor="middle" family={SOFT} color="#00a83a">229</Abs>
      <Abs x={833} y={1546} size={22} anchor="middle" family={SOFT} color={RED}>228</Abs>

      <Abs x={1658} y={1422} size={21}>p=0.017</Abs>
      <Abs x={1259} y={1518} size={20}>p = 0.017</Abs>
      <Abs x={1690} y={1272} size={21} anchor="middle" family={SOFT} color="#00b050">62</Abs>
      <Abs x={1527} y={1340} size={21} anchor="middle" family={SOFT} color="#0070c0">58</Abs>
      <Abs x={1577} y={1475} size={21} anchor="middle" family={SOFT} color={RED}>60</Abs>
    </>
  );
}

export default function App() {
  return (
    <div style={{ position: 'absolute', left: 0, top: 0, width: 2100, height: 1650, background: '#fff', overflow: 'hidden', fontFamily: FONT }}>
      <Panels />
      <Texts />
    </div>
  );
}
